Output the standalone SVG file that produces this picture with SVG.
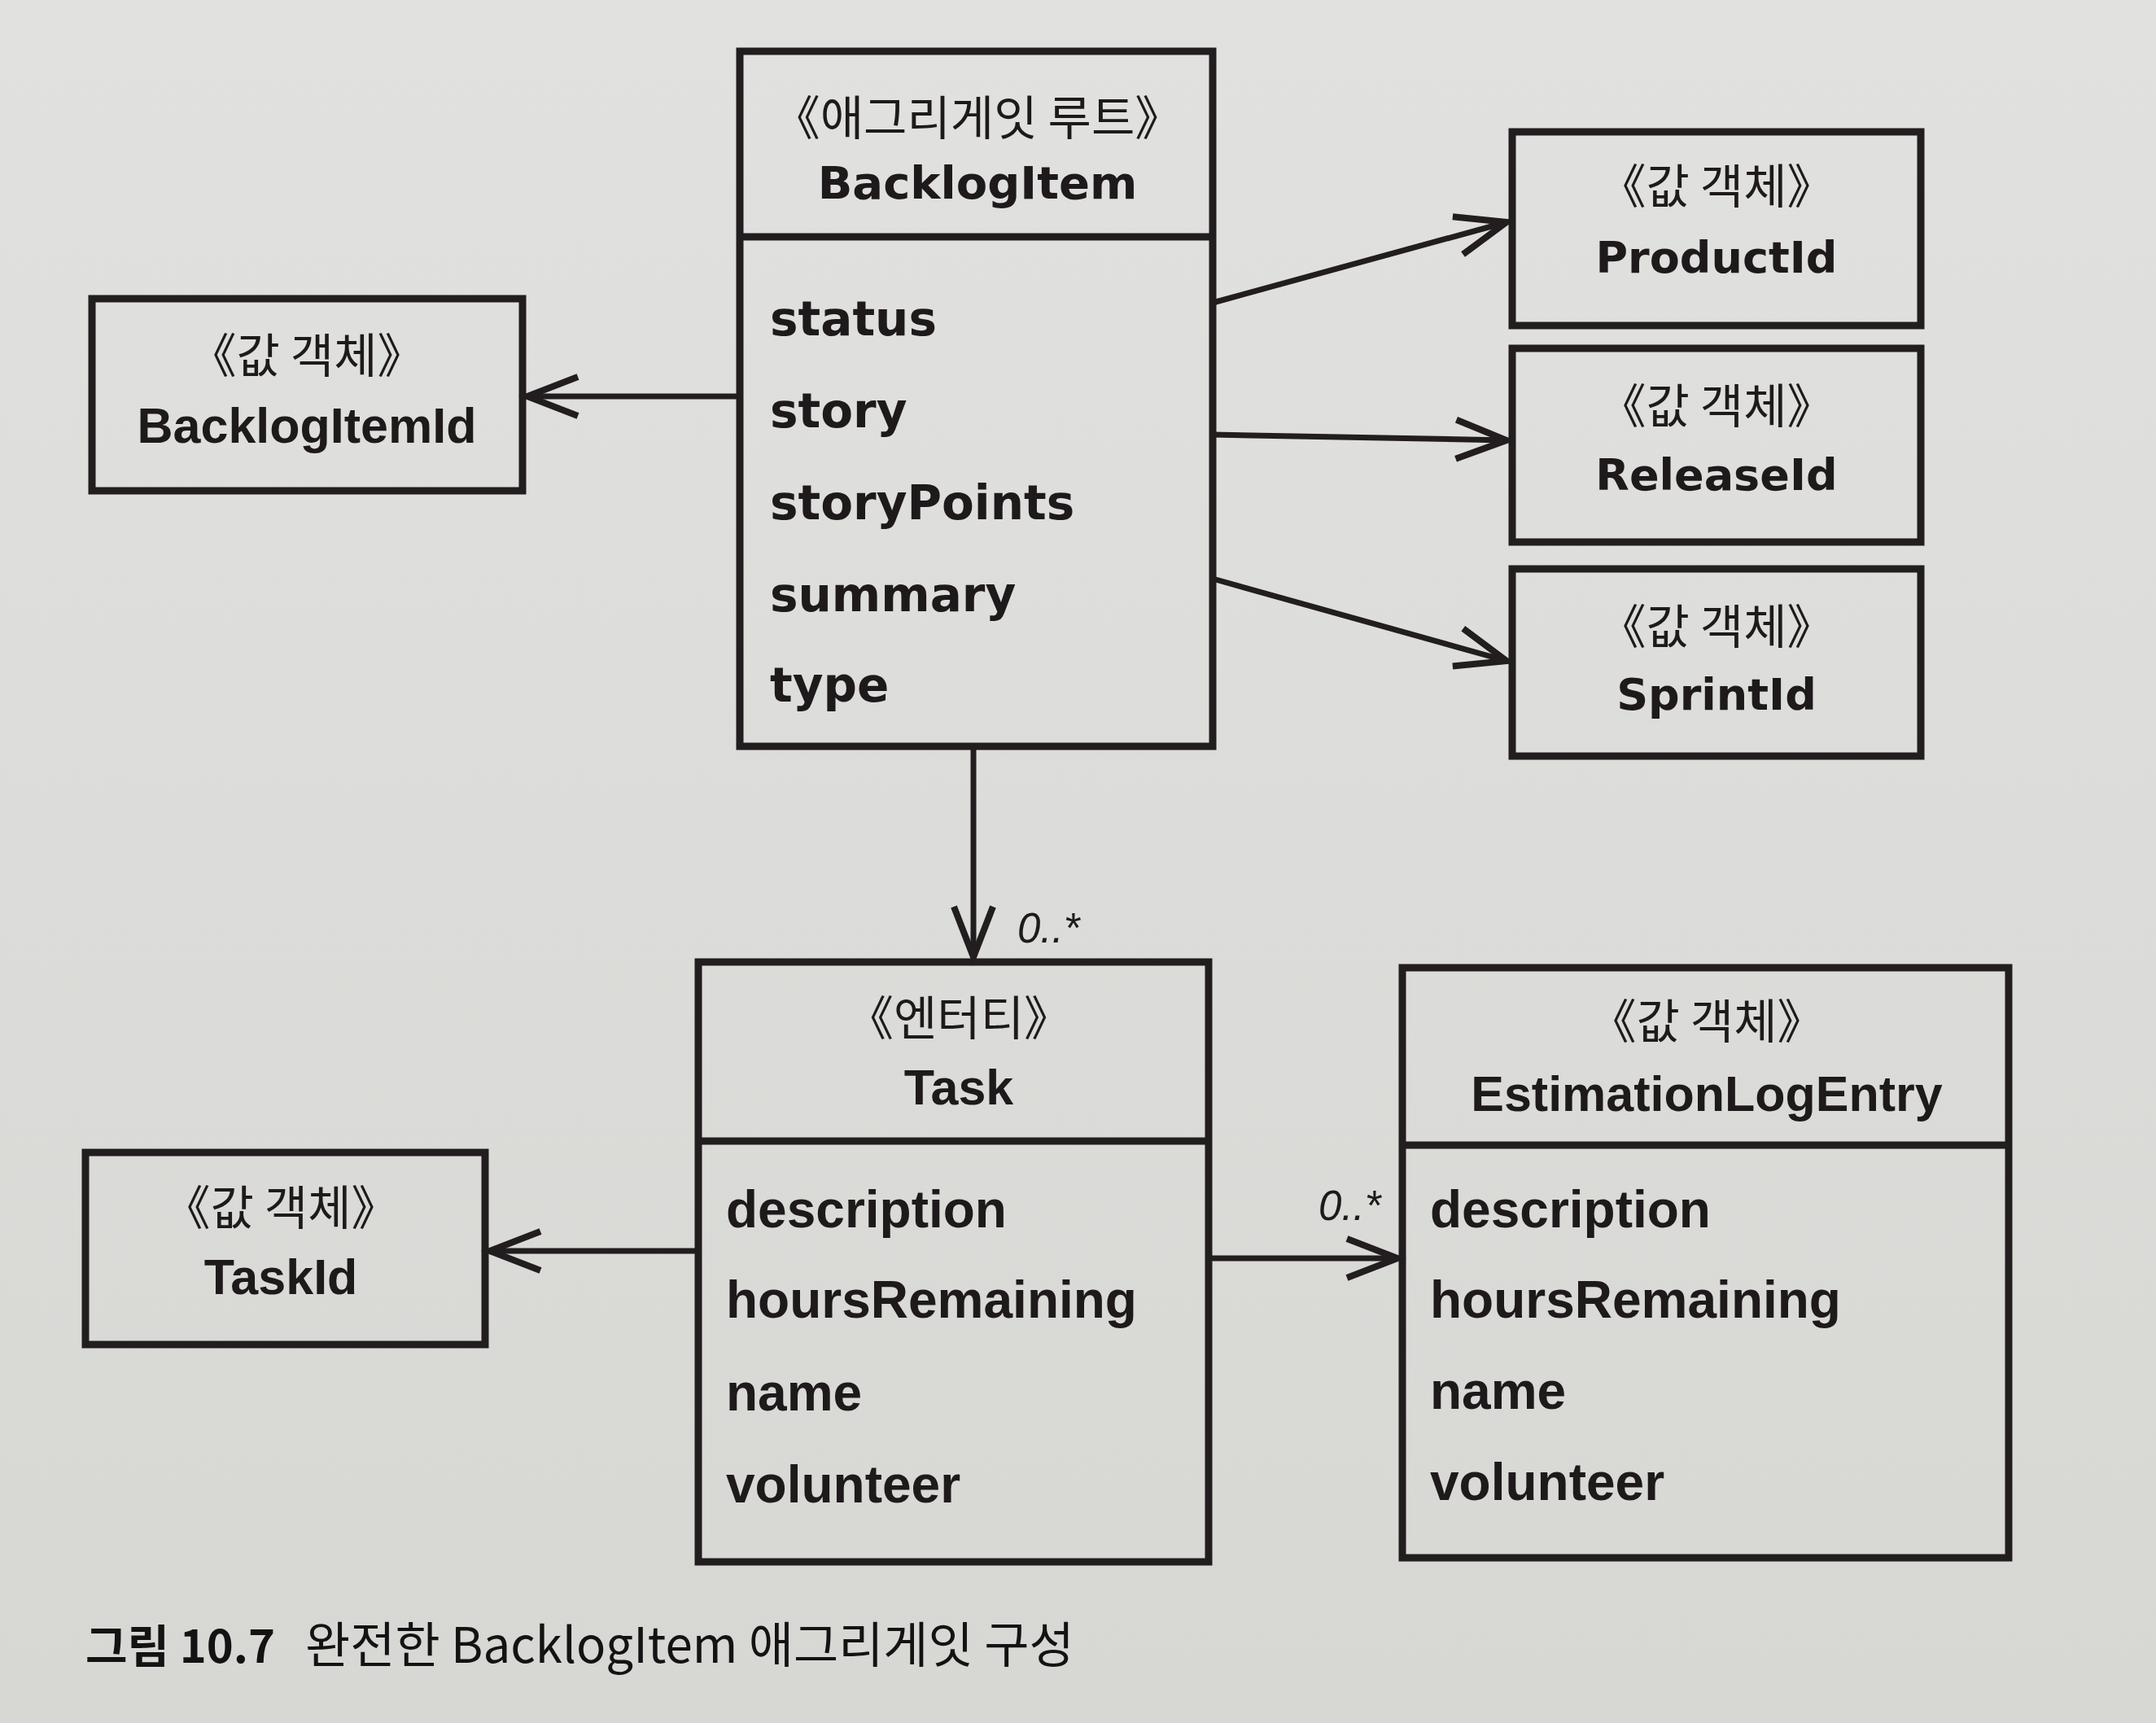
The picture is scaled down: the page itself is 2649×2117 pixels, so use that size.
<svg xmlns="http://www.w3.org/2000/svg" width="2649" height="2117" viewBox="0 0 2649 2117">
  <style>
    .box { fill: none; stroke: #221d1e; stroke-width: 9; }
    .div { stroke: #221d1e; stroke-width: 9; }
    .conn { stroke: #221d1e; stroke-width: 7; fill: none; }
    .st { font-family: "Noto Sans CJK KR", "Noto Sans", sans-serif; font-size: 58px; fill: #1e1a1b; text-anchor: middle; }
    .nmA { font-family: "DejaVu Sans", sans-serif; font-weight: bold; font-size: 54px; fill: #1e1a1b; text-anchor: middle; }
    .atA { font-family: "DejaVu Sans", sans-serif; font-weight: bold; font-size: 58px; fill: #1e1a1b; }
    .nmB { font-family: "Liberation Sans", Arial, sans-serif; font-weight: bold; font-size: 61px; fill: #1e1a1b; text-anchor: middle; }
    .atB { font-family: "Liberation Sans", Arial, sans-serif; font-weight: bold; font-size: 64px; fill: #1e1a1b; }
    .mult { font-family: "Liberation Sans", Arial, sans-serif; font-style: italic; font-size: 51px; fill: #1e1a1b; }
    .cap { font-family: "Noto Sans CJK KR", "Noto Sans", sans-serif; font-size: 60px; fill: #151213; }
  </style>
  <defs>
    <linearGradient id="paper" x1="0" y1="0" x2="0" y2="1">
      <stop offset="0" stop-color="#e1e1df"/>
      <stop offset="1" stop-color="#d7d7d4"/>
    </linearGradient>
    <marker id="open" markerUnits="userSpaceOnUse" orient="auto" refX="0" refY="0" markerWidth="80" markerHeight="70" overflow="visible">
      <path d="M-62,-24 L0,0 L-62,24" fill="none" stroke="#221d1e" stroke-width="8" stroke-linejoin="miter"/>
    </marker>
  </defs>

  <rect x="0" y="0" width="2649" height="2117" fill="url(#paper)"/>

  <g id="connectors">
    <line class="conn" x1="909" y1="487" x2="648" y2="487" marker-end="url(#open)"/>
    <line class="conn" x1="1490" y1="372" x2="1851" y2="273" marker-end="url(#open)"/>
    <line class="conn" x1="1490" y1="534" x2="1851" y2="541" marker-end="url(#open)"/>
    <line class="conn" x1="1490" y1="711" x2="1851" y2="812" marker-end="url(#open)"/>
    <line class="conn" x1="1196" y1="917" x2="1196" y2="1176" marker-end="url(#open)"/>
    <text class="mult" x="1250" y="1158">0..*</text>
    <line class="conn" x1="858" y1="1537" x2="602" y2="1537" marker-end="url(#open)"/>
    <line class="conn" x1="1485" y1="1546" x2="1717" y2="1546" marker-end="url(#open)"/>
    <text class="mult" x="1620" y="1499">0..*</text>
  </g>

  <g id="BacklogItem">
    <rect class="box" x="909" y="63" width="581" height="854"/>
    <line class="div" x1="909" y1="291" x2="1490" y2="291"/>
    <text class="st" x="1201" y="166">《애그리게잇 루트》</text>
    <text class="nmA" x="1201" y="244" style="font-size:56px">BacklogItem</text>
    <text class="atA" x="946" y="412">status</text>
    <text class="atA" x="946" y="525">story</text>
    <text class="atA" x="946" y="638">storyPoints</text>
    <text class="atA" x="946" y="751">summary</text>
    <text class="atA" x="946" y="862">type</text>
  </g>

  <g id="BacklogItemId">
    <rect class="box" x="113" y="367" width="529" height="236"/>
    <text class="st" x="377" y="458">《값 객체》</text>
    <text class="nmB" x="377" y="544">BacklogItemId</text>
  </g>

  <g id="ProductId">
    <rect class="box" x="1858" y="162" width="502" height="238"/>
    <text class="st" x="2109" y="250">《값 객체》</text>
    <text class="nmA" x="2109" y="335">ProductId</text>
  </g>

  <g id="ReleaseId">
    <rect class="box" x="1858" y="428" width="502" height="238"/>
    <text class="st" x="2109" y="520">《값 객체》</text>
    <text class="nmA" x="2109" y="602">ReleaseId</text>
  </g>

  <g id="SprintId">
    <rect class="box" x="1858" y="699" width="502" height="230"/>
    <text class="st" x="2109" y="791">《값 객체》</text>
    <text class="nmA" x="2109" y="872">SprintId</text>
  </g>

  <g id="Task">
    <rect class="box" x="858" y="1182" width="627" height="737"/>
    <line class="div" x1="858" y1="1402" x2="1485" y2="1402"/>
    <text class="st" x="1178" y="1272">《엔터티》</text>
    <text class="nmB" x="1178" y="1357">Task</text>
    <text class="atB" x="892" y="1508">description</text>
    <text class="atB" x="892" y="1619">hoursRemaining</text>
    <text class="atB" x="892" y="1733">name</text>
    <text class="atB" x="892" y="1846">volunteer</text>
  </g>

  <g id="EstimationLogEntry">
    <rect class="box" x="1723" y="1189" width="745" height="725"/>
    <line class="div" x1="1723" y1="1407" x2="2468" y2="1407"/>
    <text class="st" x="2097" y="1276">《값 객체》</text>
    <text class="nmB" x="2097" y="1365">EstimationLogEntry</text>
    <text class="atB" x="1757" y="1508">description</text>
    <text class="atB" x="1757" y="1619">hoursRemaining</text>
    <text class="atB" x="1757" y="1731">name</text>
    <text class="atB" x="1757" y="1843">volunteer</text>
  </g>

  <g id="TaskId">
    <rect class="box" x="105" y="1416" width="491" height="236"/>
    <text class="st" x="345" y="1505">《값 객체》</text>
    <text class="nmB" x="345" y="1590">TaskId</text>
  </g>

  <g id="caption">
    <text class="cap" x="105" y="2043" font-weight="bold" style="font-size:56px">그림 10.7</text>
    <text class="cap" x="375" y="2043">완전한 BacklogItem 애그리게잇 구성</text>
  </g>
</svg>
